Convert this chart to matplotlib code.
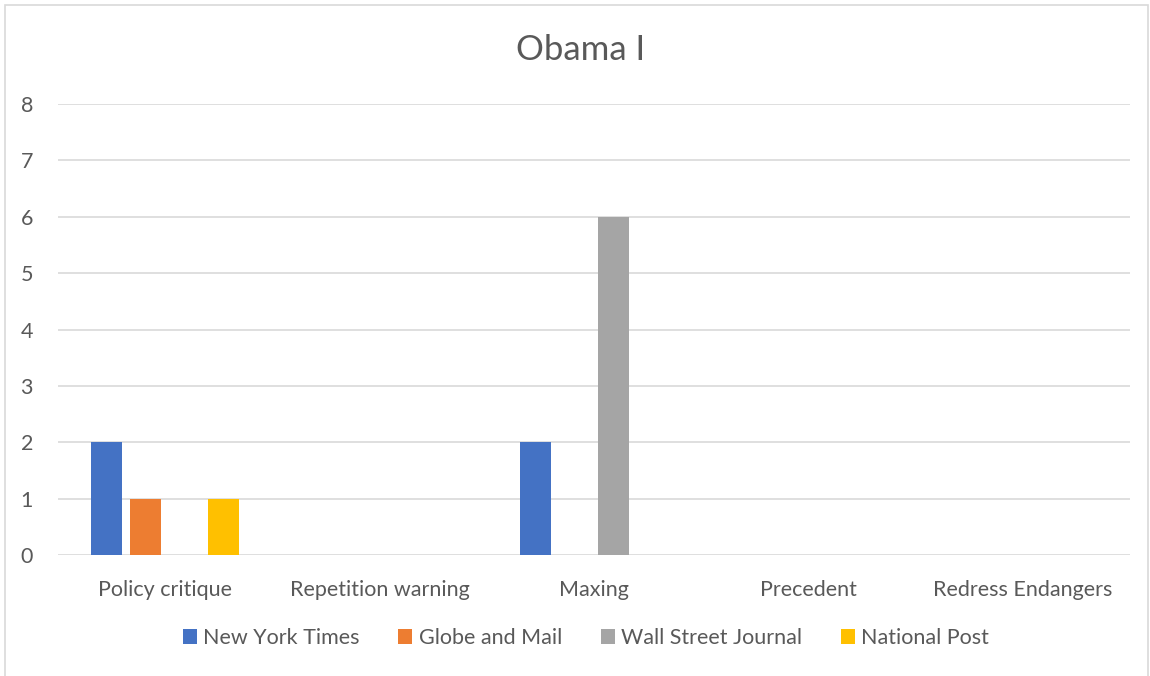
import numpy as np
import matplotlib.pyplot as plt
from matplotlib.patches import Rectangle

categories = ['Policy critique', 'Repetition warning', 'Maxing', 'Precedent', 'Redress Endangers']
series = ['New York Times', 'Globe and Mail', 'Wall Street Journal', 'National Post']
nyt = [2, 0, 2, 0, 0]
globe = [1, 0, 0, 0, 0]
wsj = [0, 0, 6, 0, 0]
natpost = [1, 0, 0, 0, 0]
colors = ['#4472C4', '#ED7D31', '#A5A5A5', '#FFC000']

plt.rcParams['font.family'] = ['Lato', 'DejaVu Sans']

fig = plt.figure(figsize=(11.5, 6.76), dpi=100)
fig.patches.append(Rectangle((5 / 1150, -0.01), 1143 / 1150, 1 - 5 / 676 + 0.01,
                             transform=fig.transFigure, fill=False,
                             edgecolor='#d9d9d9', linewidth=1.2))
ax = fig.add_axes([58 / 1150, 1 - 555 / 676, 1072 / 1150, 451 / 676])

x = np.arange(len(categories))
width = 0.145
step = 0.182
for i, (vals, name) in enumerate(zip([nyt, globe, wsj, natpost], series)):
    ax.bar(x + (i - 1.5) * step, vals, width, color=colors[i], label=name, zorder=3)

ax.set_xlim(-0.5, len(categories) - 0.5)
ax.set_ylim(0, 8)
ax.set_yticks(range(0, 9))
ax.set_xticks(x)
ax.set_xticklabels(categories)
ax.grid(axis='y', color='#d9d9d9', linewidth=1.2, zorder=0)
for s in ['top', 'right', 'left', 'bottom']:
    ax.spines[s].set_visible(False)
ax.tick_params(length=0, labelsize=15.5, labelcolor='#595959')
ax.tick_params(axis='y', pad=18)
ax.tick_params(axis='x', pad=18)

fig.text(581 / 1150, 1 - 50 / 676, 'Obama I', ha='center', va='center', fontsize=25, color='#595959')

fig.legend(loc='center', bbox_to_anchor=(586 / 1150, 1 - 638 / 676), ncol=4, frameon=False,
           fontsize=15.5, labelcolor='#595959', handlelength=0.65, handleheight=0.65,
           handletextpad=0.3, columnspacing=1.8)

plt.savefig('out.png', dpi=100)
